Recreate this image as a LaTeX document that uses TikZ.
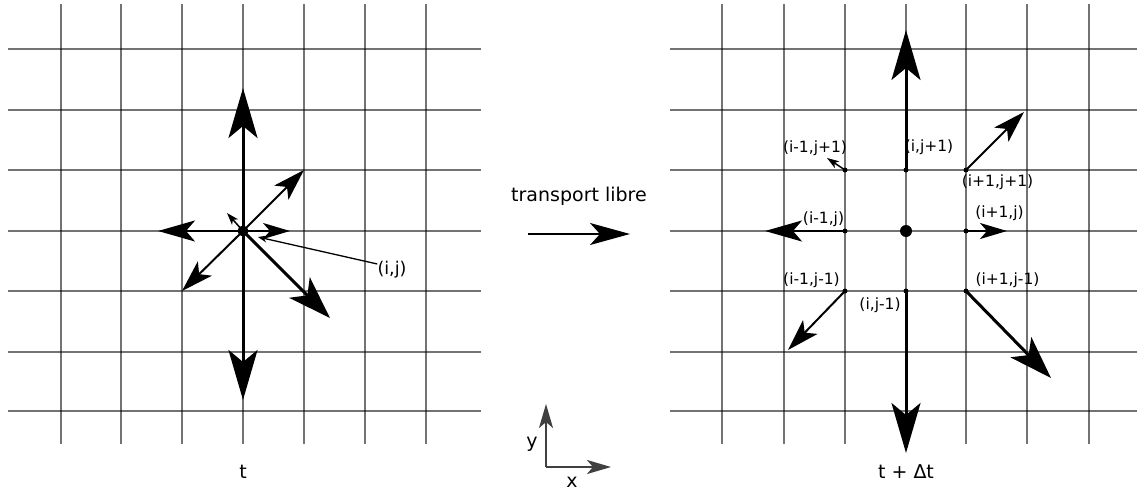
\documentclass[tikz,border=0pt]{standalone}
\usepackage{fontspec}
\setmainfont{DejaVu Sans}
\usetikzlibrary{positioning, arrows.meta}

\tikzset{
  grille/.style={line width=2.8pt, draw=black, draw opacity=0.55},
  grande/.style={line width=3pt, -{Stealth[length=50pt, width=29pt, inset=12pt]}},
  grandediag/.style={line width=3pt, -{Stealth[length=43pt, width=29pt, inset=11pt]}},
  moyenne/.style={line width=2.2pt, -{Stealth[length=37pt, width=21pt, inset=9pt]}},
  diag/.style={line width=2pt, -{Stealth[length=32pt, width=20pt, inset=8pt]}},
  petite/.style={line width=2pt, -{Stealth[length=27pt, width=16pt, inset=7pt]}},
  minuscule/.style={line width=1.5pt, -{Stealth[length=12pt, width=8pt, inset=3pt]}},
  passage/.style={line width=2pt, -{Stealth[length=40pt, width=22pt, inset=10pt]}},
  axe/.style={line width=2pt, black!75, -{Stealth[length=24pt, width=14pt, inset=6pt]}},
  renvoi/.style={line width=1.3pt, -{Stealth[length=9pt, width=7pt, open]}},
  etiq/.style={font=\fontsize{15.5}{18}\selectfont, inner sep=0pt},
  titre/.style={font=\fontsize{19}{22}\selectfont, inner sep=0pt, anchor=base},
  point/.style={circle, fill=black, inner sep=0pt, minimum size=5pt},
  centre/.style={circle, fill=black, inner sep=0pt, minimum size=12pt},
}

\begin{document}
\begin{tikzpicture}[x=1pt, y=-1pt]
\useasboundingbox (0,0) rectangle (1137,490);

% grille a l'instant t
\foreach \x in {61,121,182,243,304,365,426}
  \draw[grille] (\x,4) -- (\x,444);
\foreach \y in {49,110,170,231,291,352,411}
  \draw[grille] (8,\y) -- (481,\y);

% grille a l'instant t + dt
\foreach \x in {722,784,845,906,966,1027,1089}
  \draw[grille] (\x,4) -- (\x,444);
\foreach \y in {49,110,170,231,291,352,411}
  \draw[grille] (670,\y) -- (1137,\y);

% populations au noeud (i,j)
\coordinate (gN) at (243,88);
\coordinate (gS) at (243,400);
\coordinate (gO) at (158,231);
\coordinate (gE) at (290,231);
\coordinate (gNE) at (304,170);
\coordinate (gSO) at (182,291);
\coordinate (gSE) at (330,318);
\coordinate (gNO) at (227,213);
\node[centre, minimum size=11pt] (cg) at (243,231) {};
\draw[grande] (cg.center) -- (gN);
\draw[grande] (cg.center) -- (gS);
\draw[moyenne] (cg.center) -- (gO);
\draw[petite] (cg.center) -- (gE);
\draw[diag] (cg.center) -- (gNE);
\draw[diag] (cg.center) -- (gSO);
\draw[grandediag] (cg.center) -- (gSE);
\draw[minuscule] (cg.center) -- (gNO);

\node[font=\fontsize{17.5}{20}\selectfont, inner sep=0pt] (ij) at (392,270) {(i,j)};
\coordinate (pij) at (258,237);
\draw[renvoi] ([yshift=6pt]ij.west) -- (pij);

\node[titre] (t) at (243,478) {t};

% transport libre
\node[titre] (tl) at (579,201) {transport libre};
\coordinate (passA) at (528,234);
\coordinate (passB) at (630,234);
\draw[passage] (passA) -- (passB);

% axes
\coordinate (o) at (546,467);
\coordinate (ay) at (546,404);
\coordinate (ax) at (611,467);
\draw[axe] (o) -- (ay);
\draw[axe] (o) -- (ax);
\node[titre] (ly) at (532,447) {y};
\node[titre] (lx) at (572,487) {x};

% populations apres propagation
\node[centre] (cd) at (906,231) {};
\node[point] (vNO) at (845,170) {};
\node[point] (vN) at (906,170) {};
\node[point] (vNE) at (966,170) {};
\node[point] (vO) at (845,231) {};
\node[point] (vE) at (966,231) {};
\node[point] (vSO) at (845,291) {};
\node[point] (vS) at (906,291) {};
\node[point] (vSE) at (966,291) {};

\coordinate (dN) at (906,30);
\coordinate (dS) at (906,453);
\coordinate (dO) at (765,231);
\coordinate (dE) at (1007,231);
\coordinate (dNE) at (1024,112);
\coordinate (dSO) at (788,350);
\coordinate (dSE) at (1051,378);
\coordinate (dNO) at (827,158);
\draw[grande] (vN.center) -- (dN);
\draw[grande] (vS.center) -- (dS);
\draw[moyenne] (vO.center) -- (dO);
\draw[petite] (vE.center) -- (dE);
\draw[diag] (vNE.center) -- (dNE);
\draw[diag] (vSO.center) -- (dSO);
\draw[grandediag] (vSE.center) -- (dSE);
\draw[minuscule] (vNO.center) -- (dNO);

\node[etiq] (im1jp1) at (815,148) {(i-1,j+1)};
\node[etiq] (ijp1) at (929,147.5) {(i,j+1)};
\node[etiq] (ip1jp1) at (997.5,182.5) {(i+1,j+1)};
\node[etiq] (im1j) at (823.5,219) {(i-1,j)};
\node[etiq] (ip1j) at (999.5,213.5) {(i+1,j)};
\node[etiq] (im1jm1) at (811.5,280) {(i-1,j-1)};
\node[etiq] (ijm1) at (880,305) {(i,j-1)};
\node[etiq] (ip1jm1) at (1007.5,280) {(i+1,j-1)};

\node[titre] (tdt) at (906,478) {t + Δt};
\end{tikzpicture}
\end{document}
